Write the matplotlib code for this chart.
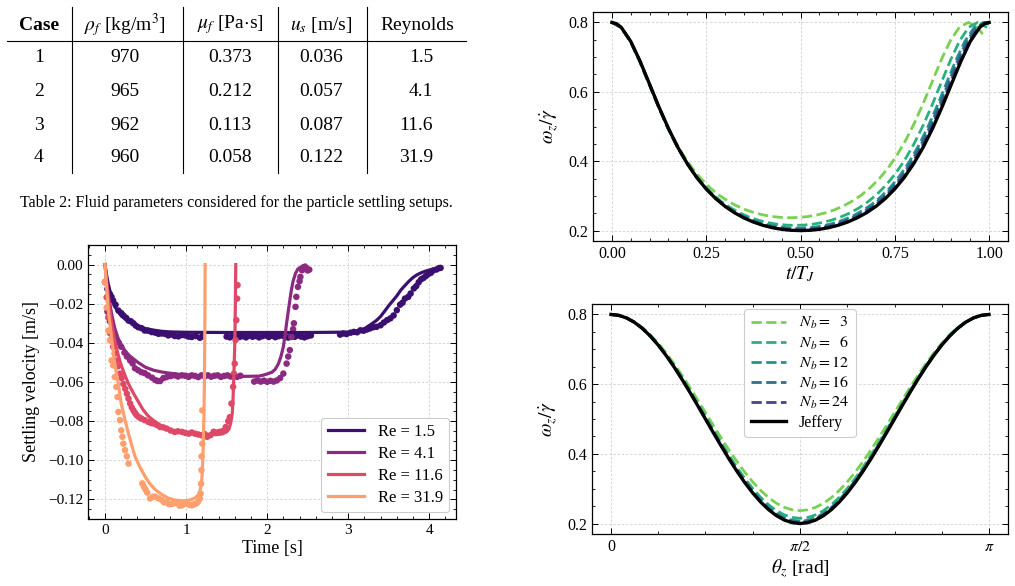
#!/usr/bin/env python
# -*- coding: utf-8 -*-

import numpy as np
import matplotlib
matplotlib.use("Agg")
import matplotlib.pyplot as plt
from matplotlib.ticker import MultipleLocator, FixedLocator

# ---------------- table data ----------------
table_header = ["Case", r"$\rho_f$ [kg/m$^3$]", r"$\mu_f$ [Pa$\cdot$s]", r"$u_s$ [m/s]", "Reynolds"]
table_case = ["1", "2", "3", "4"]
table_rho = ["970", "965", "962", "960"]
table_mu = ["0.373", "0.212", "0.113", "0.058"]
table_us = ["0.036", "0.057", "0.087", "0.122"]
table_re = ["1.5", "4.1", "11.6", "31.9"]
caption = "Table 2: Fluid parameters considered for the particle settling setups."

# ---------------- settling velocity (bottom left) ----------------
re_labels = ["Re = 1.5", "Re = 4.1", "Re = 11.6", "Re = 31.9"]
re_colors = ["#3b0f70", "#8c2981", "#de4968", "#fe9f6d"]

# measured points
pts_t_15 = [0.0, 0.03, 0.06, 0.08, 0.10, 0.13, 0.165, 0.2, 0.226, 0.26, 0.29, 0.32, 0.35, 0.38, 0.41,
            0.45, 0.49, 0.53, 0.576, 0.62, 0.66, 0.7, 0.74, 0.78, 0.82, 0.86, 0.905, 0.95, 0.99, 1.03,
            1.07, 1.12, 1.17, 1.2,
            1.5, 1.54, 1.58, 1.62, 1.66, 1.7, 1.74, 1.78, 1.82, 1.86, 1.9, 1.94, 1.98, 2.02, 2.06, 2.1,
            2.14, 2.18, 2.22, 2.26, 2.3, 2.34, 2.38, 2.42, 2.46, 2.5, 2.54,
            2.9, 2.94, 2.98, 3.03, 3.07, 3.11, 3.15, 3.19, 3.23, 3.27, 3.31, 3.35, 3.4, 3.44, 3.48, 3.52,
            3.56, 3.6, 3.64, 3.67, 3.7, 3.74, 3.77, 3.81, 3.84, 3.87, 3.9, 3.93, 3.96, 3.99, 4.02, 4.05,
            4.09, 4.12, 4.14]
pts_v_15 = [-0.009, -0.0125, -0.015, -0.0165, -0.0184, -0.0205, -0.0235, -0.0248, -0.026, -0.0272, -0.0286,
            -0.029, -0.030, -0.0312, -0.032, -0.0325, -0.0337, -0.0338, -0.0345, -0.0348, -0.0354, -0.0352,
            -0.0354, -0.0362, -0.0357, -0.0365, -0.0367, -0.036, -0.0362, -0.0368, -0.037, -0.0365, -0.0374,
            -0.0368,
            -0.0368, -0.0372, -0.0365, -0.0362, -0.037, -0.0366, -0.0372, -0.0363, -0.0369, -0.0365, -0.0372,
            -0.0366, -0.0362, -0.037, -0.0364, -0.0371, -0.0366, -0.0362, -0.0369, -0.0373, -0.0365, -0.0369,
            -0.0362, -0.0368, -0.0372, -0.0366, -0.0362,
            -0.0358, -0.0352, -0.0355, -0.0348, -0.0344, -0.0346, -0.0336, -0.0338, -0.0332, -0.0326, -0.032,
            -0.0318, -0.031, -0.0296, -0.0284, -0.0275, -0.026, -0.0233, -0.0205, -0.0195, -0.0174, -0.0165,
            -0.0148, -0.0122, -0.011, -0.009, -0.0075, -0.0068, -0.0058, -0.0048, -0.0042, -0.003, -0.0025,
            -0.0018, -0.0017]

pts_t_41 = [0.03, 0.06, 0.08, 0.11, 0.14, 0.17, 0.2, 0.24, 0.27, 0.31, 0.34, 0.37, 0.41, 0.45, 0.49, 0.53,
            0.58, 0.62, 0.65, 0.68, 0.72, 0.76, 0.81, 0.86, 0.9, 0.95, 0.99, 1.03, 1.07, 1.11, 1.15, 1.19,
            1.23, 1.27, 1.31, 1.35, 1.39, 1.43, 1.47, 1.51, 1.55, 1.59, 1.63, 1.67,
            1.84, 1.88, 1.92, 1.96, 2.0, 2.04, 2.08, 2.12, 2.16, 2.2, 2.24, 2.26, 2.28, 2.3, 2.32, 2.33,
            2.35, 2.36, 2.38, 2.4, 2.41, 2.43, 2.45, 2.46, 2.48, 2.5, 2.52]
pts_v_41 = [-0.024, -0.029, -0.0337, -0.036, -0.0388, -0.040, -0.042, -0.045, -0.047, -0.049, -0.0505,
            -0.053, -0.054, -0.055, -0.0555, -0.0566, -0.0578, -0.059, -0.0595, -0.0595, -0.058, -0.0575,
            -0.057, -0.0566, -0.0572, -0.0566, -0.0568, -0.0574, -0.0566, -0.0569, -0.0575, -0.0566,
            -0.0571, -0.0566, -0.0573, -0.0568, -0.0566, -0.0574, -0.0569, -0.0566, -0.0572, -0.0567,
            -0.0574, -0.0568,
            -0.0598, -0.0592, -0.0598, -0.0593, -0.0599, -0.0594, -0.0598, -0.0592, -0.058, -0.0557,
            -0.0506, -0.047, -0.0437, -0.037, -0.033, -0.030, -0.0216, -0.0165, -0.0114, -0.0085,
            -0.0063, -0.0029, -0.0015, -0.0012, -0.0015, -0.003, -0.0026]

pts_t_116 = [0.0, 0.02, 0.04, 0.06, 0.08, 0.1, 0.12, 0.14, 0.16, 0.185, 0.205, 0.226, 0.25, 0.27, 0.29,
             0.31, 0.33, 0.35, 0.37, 0.39, 0.42, 0.45, 0.49, 0.535, 0.57, 0.6, 0.64, 0.68, 0.72, 0.76,
             0.81, 0.86, 0.9, 0.95, 0.99, 1.03, 1.07, 1.11, 1.15, 1.19, 1.23, 1.26, 1.3, 1.34, 1.38,
             1.42, 1.46, 1.49, 1.52, 1.54, 1.56, 1.58, 1.59, 1.6, 1.61, 1.62, 1.63, 1.635]
pts_v_116 = [-0.009, -0.0167, -0.027, -0.035, -0.038, -0.042, -0.0455, -0.049, -0.052, -0.0557, -0.058,
             -0.061, -0.0635, -0.066, -0.0685, -0.071, -0.073, -0.0745, -0.0758, -0.077, -0.078, -0.0787,
             -0.0795, -0.0804, -0.081, -0.0812, -0.082, -0.083, -0.0832, -0.0838, -0.0848, -0.0855,
             -0.0852, -0.0855, -0.086, -0.0864, -0.0858, -0.0864, -0.0868, -0.0872, -0.0866, -0.088,
             -0.0872, -0.0854, -0.0858, -0.0854, -0.085, -0.083, -0.080, -0.078, -0.071, -0.0625,
             -0.0557, -0.0506, -0.0386, -0.0284, -0.0174, -0.0105]

pts_t_319 = [0.0, 0.02, 0.04, 0.06, 0.08, 0.1, 0.12, 0.14, 0.155, 0.165, 0.185, 0.2, 0.215, 0.226, 0.247,
             0.27, 0.29, 0.46, 0.48, 0.5, 0.52, 0.556, 0.59, 0.62, 0.66, 0.7, 0.73, 0.76, 0.79, 0.82,
             0.85, 0.885, 0.92, 0.95, 0.98, 1.01, 1.04, 1.07, 1.1, 1.13, 1.15, 1.17, 1.18, 1.185, 1.19,
             1.19, 1.2, 1.2]
pts_v_319 = [-0.009, -0.022, -0.0337, -0.0388, -0.049, -0.0515, -0.0575, -0.0625, -0.0677, -0.0753,
             -0.0795, -0.0847, -0.088, -0.0915, -0.0948, -0.098, -0.1017, -0.1118, -0.1135, -0.115,
             -0.1165, -0.1195, -0.1186, -0.1186, -0.1195, -0.1203, -0.1215, -0.121, -0.1224, -0.1224,
             -0.122, -0.1217, -0.1232, -0.123, -0.1222, -0.122, -0.1228, -0.123, -0.1225, -0.122,
             -0.121, -0.1195, -0.117, -0.112, -0.105, -0.098, -0.0915, -0.0745]

# model curves
fit_t_15 = [0.0, 0.02, 0.04, 0.08, 0.12, 0.2, 0.3, 0.4, 0.5, 0.6, 0.7, 0.8, 1.0, 1.5, 2.0, 2.5, 2.8,
            3.0, 3.1, 3.2, 3.3, 3.35, 3.4, 3.45, 3.5, 3.55, 3.6, 3.65, 3.7, 3.75, 3.8, 3.85, 3.9, 3.95,
            4.0, 4.05, 4.1]
fit_v_15 = [0.0, -0.0055, -0.0100, -0.0165, -0.0215, -0.0262, -0.0294, -0.0313, -0.0327, -0.0335,
            -0.0341, -0.0344, -0.0346, -0.0347, -0.0347, -0.0347, -0.0346, -0.0345, -0.0340, -0.0328,
            -0.0300, -0.0285, -0.0265, -0.0238, -0.0210, -0.0185, -0.0160, -0.0130, -0.0107, -0.0085,
            -0.0066, -0.0052, -0.0042, -0.0034, -0.0028, -0.0024, -0.0021]

fit_t_41 = [0.0, 0.02, 0.05, 0.08, 0.12, 0.16, 0.2, 0.25, 0.3, 0.4, 0.5, 0.6, 0.7, 0.8, 0.9, 1.1, 1.3,
            1.6, 1.9, 1.95, 2.0, 2.06, 2.1, 2.14, 2.17, 2.2, 2.22, 2.24, 2.26, 2.28, 2.3, 2.32, 2.35,
            2.38, 2.43, 2.47]
fit_v_41 = [0.0, -0.008, -0.0175, -0.025, -0.0325, -0.0375, -0.041, -0.0442, -0.0465, -0.0498,
            -0.0525, -0.054, -0.0549, -0.0555, -0.056, -0.0566, -0.057, -0.0572, -0.057, -0.0565,
            -0.0559, -0.055, -0.0535, -0.0506, -0.047, -0.042, -0.0365, -0.030, -0.024, -0.0182,
            -0.0128, -0.0085, -0.0045, -0.0022, -0.0009, -0.0003]

fit_t_116 = [0.0, 0.02, 0.04, 0.08, 0.12, 0.16, 0.2, 0.25, 0.29, 0.35, 0.41, 0.47, 0.535, 0.6, 0.7,
             0.8, 0.9, 1.0, 1.11, 1.2, 1.3, 1.38, 1.45, 1.5, 1.53, 1.55, 1.57, 1.58, 1.59, 1.6, 1.605,
             1.61, 1.613]
fit_v_116 = [0.0, -0.009, -0.017, -0.0295, -0.0388, -0.0458, -0.0515, -0.057, -0.061, -0.0657, -0.070,
             -0.0742, -0.0775, -0.0797, -0.0825, -0.0843, -0.0855, -0.0861, -0.0865, -0.0867, -0.0869,
             -0.0869, -0.0865, -0.0855, -0.084, -0.081, -0.076, -0.068, -0.0557, -0.042, -0.030,
             -0.012, 0.0]

fit_t_319 = [0.0, 0.02, 0.04, 0.08, 0.12, 0.165, 0.2, 0.25, 0.29, 0.33, 0.37, 0.43, 0.49, 0.55, 0.62,
             0.7, 0.78, 0.86, 0.95, 1.02, 1.07, 1.11, 1.15, 1.17, 1.19, 1.2, 1.21, 1.22, 1.226, 1.23,
             1.233, 1.235]
fit_v_319 = [0.0, -0.012, -0.0235, -0.037, -0.0507, -0.061, -0.071, -0.080, -0.0865, -0.0925, -0.098,
             -0.1035, -0.108, -0.1118, -0.115, -0.1175, -0.1193, -0.1203, -0.1207, -0.1205, -0.120,
             -0.1192, -0.1178, -0.1158, -0.112, -0.106, -0.095, -0.078, -0.061, -0.040, -0.020, 0.0]

# ---------------- angular velocity vs time (top right) ----------------
nb_labels = [r"$N_b =\ \ 3$", r"$N_b =\ \ 6$", r"$N_b = 12$", r"$N_b = 16$", r"$N_b = 24$"]
nb_colors = ["#7ad151", "#2ab07f", "#1f968b", "#2d6f8e", "#404688"]

tj_jeff = [0.0, 0.0125, 0.025, 0.05, 0.075, 0.1, 0.125, 0.15, 0.175, 0.2, 0.225, 0.25, 0.275, 0.3, 0.325,
           0.35, 0.375, 0.4, 0.425, 0.45, 0.475, 0.5, 0.525, 0.55, 0.575, 0.6, 0.625, 0.65, 0.675, 0.7,
           0.725, 0.75, 0.775, 0.8, 0.825, 0.85, 0.875, 0.9, 0.925, 0.95, 0.975, 0.9875, 1.0]
wt_jeff = [0.8, 0.7963, 0.7855, 0.7453, 0.6876, 0.6219, 0.5558, 0.4943, 0.4398, 0.3928, 0.3531, 0.32,
           0.2925, 0.2699, 0.2515, 0.2366, 0.2247, 0.2154, 0.2085, 0.2037, 0.2009, 0.2, 0.2009, 0.2037,
           0.2085, 0.2154, 0.2247, 0.2366, 0.2515, 0.2699, 0.2925, 0.32, 0.3531, 0.3928, 0.4398, 0.4943,
           0.5558, 0.6219, 0.6876, 0.7453, 0.7855, 0.7963, 0.8]

tj_nb3 = [0.0, 0.0236, 0.0473, 0.0709, 0.0945, 0.1181, 0.1418, 0.1654, 0.189, 0.2126, 0.2363, 0.2599,
          0.2835, 0.3071, 0.3308, 0.3544, 0.378, 0.4016, 0.4253, 0.4489, 0.4725, 0.4961, 0.5198, 0.5434,
          0.567, 0.5906, 0.6143, 0.6379, 0.6615, 0.6851, 0.7088, 0.7324, 0.756, 0.7796, 0.8033, 0.8269,
          0.8505, 0.8741, 0.8978, 0.9214, 0.945, 0.9686, 0.9828]
wt_nb3 = [0.8, 0.7864, 0.7487, 0.6946, 0.6328, 0.5709, 0.5132, 0.462, 0.4179, 0.3807, 0.3496, 0.3238,
          0.3026, 0.2853, 0.2713, 0.2601, 0.2515, 0.245, 0.2405, 0.2379, 0.237, 0.2379, 0.2405, 0.245,
          0.2515, 0.2601, 0.2713, 0.2853, 0.3026, 0.3238, 0.3496, 0.3807, 0.4179, 0.462, 0.5132, 0.5709,
          0.6328, 0.6946, 0.7487, 0.7864, 0.8, 0.7864, 0.7662]

tj_nb6 = [0.0, 0.0243, 0.0485, 0.0728, 0.097, 0.1213, 0.1455, 0.1698, 0.194, 0.2183, 0.2425, 0.2668,
          0.291, 0.3153, 0.3395, 0.3638, 0.388, 0.4123, 0.4365, 0.4608, 0.485, 0.5093, 0.5335, 0.5578,
          0.582, 0.6063, 0.6305, 0.6548, 0.679, 0.7033, 0.7275, 0.7518, 0.776, 0.8003, 0.8245, 0.8488,
          0.873, 0.8973, 0.9215, 0.9458, 0.97, 0.9943]
wt_nb6 = [0.8, 0.7858, 0.7466, 0.6904, 0.6263, 0.5619, 0.502, 0.4488, 0.403, 0.3644, 0.332, 0.3052,
          0.2832, 0.2652, 0.2506, 0.239, 0.23, 0.2233, 0.2186, 0.2159, 0.215, 0.2159, 0.2186, 0.2233,
          0.23, 0.239, 0.2506, 0.2652, 0.2832, 0.3052, 0.332, 0.3644, 0.403, 0.4488, 0.502, 0.5619,
          0.6263, 0.6904, 0.7466, 0.7858, 0.8, 0.7858]

tj_nb12 = [0.0, 0.0246, 0.0493, 0.0739, 0.0985, 0.1231, 0.1478, 0.1724, 0.197, 0.2216, 0.2463, 0.2709,
           0.2955, 0.3201, 0.3448, 0.3694, 0.394, 0.4186, 0.4433, 0.4679, 0.4925, 0.5171, 0.5418, 0.5664,
           0.591, 0.6156, 0.6403, 0.6649, 0.6895, 0.7141, 0.7388, 0.7634, 0.788, 0.8126, 0.8373, 0.8619,
           0.8865, 0.9111, 0.9358, 0.9604, 0.985, 0.9998]
wt_nb12 = [0.8, 0.7856, 0.7459, 0.6889, 0.6239, 0.5586, 0.4979, 0.444, 0.3976, 0.3584, 0.3256, 0.2984,
           0.2761, 0.2579, 0.2431, 0.2314, 0.2222, 0.2154, 0.2107, 0.2079, 0.207, 0.2079, 0.2107, 0.2154,
           0.2222, 0.2314, 0.2431, 0.2579, 0.2761, 0.2984, 0.3256, 0.3584, 0.3976, 0.444, 0.4979, 0.5586,
           0.6239, 0.6889, 0.7459, 0.7856, 0.8, 0.7948]

tj_nb16 = [0.0, 0.0248, 0.0495, 0.0743, 0.099, 0.1238, 0.1485, 0.1733, 0.198, 0.2228, 0.2475, 0.2723,
           0.297, 0.3218, 0.3465, 0.3713, 0.396, 0.4208, 0.4455, 0.4703, 0.495, 0.5198, 0.5445, 0.5693,
           0.594, 0.6188, 0.6435, 0.6683, 0.693, 0.7178, 0.7425, 0.7673, 0.792, 0.8168, 0.8415, 0.8663,
           0.891, 0.9158, 0.9405, 0.9653, 0.99, 1.0]
wt_nb16 = [0.8, 0.7856, 0.7456, 0.6884, 0.623, 0.5574, 0.4964, 0.4422, 0.3956, 0.3562, 0.3232, 0.2959,
           0.2735, 0.2551, 0.2403, 0.2285, 0.2193, 0.2125, 0.2077, 0.205, 0.204, 0.205, 0.2077, 0.2125,
           0.2193, 0.2285, 0.2403, 0.2551, 0.2735, 0.2959, 0.3232, 0.3562, 0.3956, 0.4422, 0.4964, 0.5574,
           0.623, 0.6884, 0.7456, 0.7856, 0.8, 0.7976]

tj_nb24 = [0.0, 0.0249, 0.0498, 0.0746, 0.0995, 0.1244, 0.1493, 0.1741, 0.199, 0.2239, 0.2488, 0.2736,
           0.2985, 0.3234, 0.3483, 0.3731, 0.398, 0.4229, 0.4478, 0.4726, 0.4975, 0.5224, 0.5473, 0.5721,
           0.597, 0.6219, 0.6468, 0.6716, 0.6965, 0.7214, 0.7463, 0.7711, 0.796, 0.8209, 0.8458, 0.8706,
           0.8955, 0.9204, 0.9453, 0.9701, 0.995, 1.0]
wt_nb24 = [0.8, 0.7855, 0.7455, 0.688, 0.6225, 0.5566, 0.4954, 0.441, 0.3942, 0.3547, 0.3216, 0.2942,
           0.2717, 0.2533, 0.2384, 0.2266, 0.2174, 0.2105, 0.2057, 0.203, 0.202, 0.203, 0.2057, 0.2105,
           0.2174, 0.2266, 0.2384, 0.2533, 0.2717, 0.2942, 0.3216, 0.3547, 0.3942, 0.441, 0.4954, 0.5566,
           0.6225, 0.688, 0.7455, 0.7855, 0.8, 0.7994]

# ---------------- angular velocity vs angle (bottom right) ----------------
theta = [0.0, 0.0654, 0.1309, 0.1963, 0.2618, 0.3272, 0.3927, 0.4581, 0.5236, 0.589, 0.6545, 0.7199,
         0.7854, 0.8508, 0.9163, 0.9817, 1.0472, 1.1126, 1.1781, 1.2435, 1.309, 1.3744, 1.4399, 1.5053,
         1.5708, 1.6362, 1.7017, 1.7671, 1.8326, 1.898, 1.9635, 2.0289, 2.0944, 2.1598, 2.2253, 2.2907,
         2.3562, 2.4216, 2.4871, 2.5525, 2.618, 2.6834, 2.7489, 2.8143, 2.8798, 2.9452, 3.0107, 3.0761,
         3.1416]
wth_jeff = [0.8, 0.7974, 0.7898, 0.7772, 0.7598, 0.738, 0.7121, 0.6826, 0.65, 0.6148, 0.5776, 0.5392,
            0.5, 0.4608, 0.4224, 0.3852, 0.35, 0.3174, 0.2879, 0.262, 0.2402, 0.2228, 0.2102, 0.2026,
            0.2, 0.2026, 0.2102, 0.2228, 0.2402, 0.262, 0.2879, 0.3174, 0.35, 0.3852, 0.4224, 0.4608,
            0.5, 0.5392, 0.5776, 0.6148, 0.65, 0.6826, 0.7121, 0.738, 0.7598, 0.7772, 0.7898, 0.7974, 0.8]
wth_nb3 = [0.8, 0.7976, 0.7904, 0.7786, 0.7623, 0.7418, 0.7175, 0.6899, 0.6593, 0.6262, 0.5914, 0.5552,
           0.5185, 0.4818, 0.4456, 0.4108, 0.3778, 0.3471, 0.3195, 0.2952, 0.2747, 0.2584, 0.2466, 0.2394,
           0.237, 0.2394, 0.2466, 0.2584, 0.2747, 0.2952, 0.3195, 0.3471, 0.3778, 0.4108, 0.4456, 0.4818,
           0.5185, 0.5552, 0.5914, 0.6262, 0.6593, 0.6899, 0.7175, 0.7418, 0.7623, 0.7786, 0.7904, 0.7976,
           0.8]
wth_nb6 = [0.8, 0.7975, 0.79, 0.7777, 0.7608, 0.7396, 0.7143, 0.6856, 0.6538, 0.6194, 0.5832, 0.5457,
           0.5075, 0.4693, 0.4318, 0.3956, 0.3613, 0.3294, 0.3007, 0.2754, 0.2542, 0.2373, 0.225, 0.2175,
           0.215, 0.2175, 0.225, 0.2373, 0.2542, 0.2754, 0.3007, 0.3294, 0.3613, 0.3956, 0.4318, 0.4693,
           0.5075, 0.5457, 0.5832, 0.6194, 0.6538, 0.6856, 0.7143, 0.7396, 0.7608, 0.7777, 0.79, 0.7975,
           0.8]
wth_nb12 = [0.8, 0.7975, 0.7899, 0.7774, 0.7603, 0.7387, 0.7132, 0.684, 0.6518, 0.617, 0.5802, 0.5422,
            0.5035, 0.4648, 0.4268, 0.39, 0.3553, 0.323, 0.2938, 0.2683, 0.2467, 0.2296, 0.2171, 0.2095,
            0.207, 0.2095, 0.2171, 0.2296, 0.2467, 0.2683, 0.2938, 0.323, 0.3553, 0.39, 0.4268, 0.4648,
            0.5035, 0.5422, 0.5802, 0.617, 0.6518, 0.684, 0.7132, 0.7387, 0.7603, 0.7774, 0.7899, 0.7975,
            0.8]
wth_nb16 = [0.8, 0.7974, 0.7898, 0.7773, 0.7601, 0.7384, 0.7127, 0.6834, 0.651, 0.616, 0.5791, 0.5409,
            0.502, 0.4631, 0.4249, 0.388, 0.353, 0.3206, 0.2913, 0.2656, 0.2439, 0.2267, 0.2142, 0.2066,
            0.204, 0.2066, 0.2142, 0.2267, 0.2439, 0.2656, 0.2913, 0.3206, 0.353, 0.388, 0.4249, 0.4631,
            0.502, 0.5409, 0.5791, 0.616, 0.651, 0.6834, 0.7127, 0.7384, 0.7601, 0.7773, 0.7898, 0.7974,
            0.8]
wth_nb24 = [0.8, 0.7974, 0.7898, 0.7772, 0.7599, 0.7382, 0.7124, 0.683, 0.6505, 0.6154, 0.5784, 0.54,
            0.501, 0.462, 0.4236, 0.3866, 0.3515, 0.319, 0.2896, 0.2638, 0.2421, 0.2248, 0.2122, 0.2046,
            0.202, 0.2046, 0.2122, 0.2248, 0.2421, 0.2638, 0.2896, 0.319, 0.3515, 0.3866, 0.4236, 0.462,
            0.501, 0.54, 0.5784, 0.6154, 0.6505, 0.683, 0.7124, 0.7382, 0.7599, 0.7772, 0.7898, 0.7974,
            0.8]

# ---------------- style ----------------
plt.rcParams.update({
    "font.family": "serif",
    "font.serif": ["Liberation Serif", "DejaVu Serif"],
    "mathtext.fontset": "stix",
    "axes.linewidth": 0.9,
    "xtick.direction": "in",
    "ytick.direction": "in",
    "xtick.top": True,
    "ytick.right": True,
    "xtick.major.size": 4,
    "ytick.major.size": 4,
    "xtick.minor.size": 2,
    "ytick.minor.size": 2,
    "xtick.major.width": 0.7,
    "ytick.major.width": 0.7,
    "xtick.minor.width": 0.6,
    "ytick.minor.width": 0.6,
    "axes.unicode_minus": True,
})

W, H = 1015, 586
fig = plt.figure(figsize=(W / 100, H / 100), dpi=100)


def frac(left, top, right, bottom):
    # pixel box -> figure fraction
    return [left / W, 1 - bottom / H, (right - left) / W, (bottom - top) / H]


def add_grid(ax):
    ax.grid(True, which="major", ls=(0, (3, 2)), lw=0.6, color="#d0d0d0")
    ax.set_axisbelow(True)


# ---------------- table ----------------
tab = fig.add_axes([0, 0, 1, 1])
tab.set_xlim(0, W)
tab.set_ylim(H, 0)
tab.axis("off")

col_x = [39, 125, 230, 321, 417]
head_y = 25
row_y = [58, 92, 125, 158]
for i, h in enumerate(table_header):
    tab.text(col_x[i], head_y, h, ha="center", va="center", fontsize=14,
             fontweight="bold" if i == 0 else "normal")
for j in range(4):
    tab.text(col_x[0], row_y[j], table_case[j], ha="center", va="center", fontsize=14)
    tab.text(col_x[1], row_y[j], table_rho[j], ha="center", va="center", fontsize=14)
    tab.text(col_x[2], row_y[j], table_mu[j], ha="center", va="center", fontsize=14)
    tab.text(col_x[3], row_y[j], table_us[j], ha="center", va="center", fontsize=14)
    tab.text(433, row_y[j], table_re[j], ha="right", va="center", fontsize=14)
for x in [72, 183, 278, 367]:
    tab.plot([x, x], [7, 173], color="black", lw=0.8)
tab.plot([7, 466], [41, 41], color="black", lw=0.8)
tab.text(236, 203, caption, ha="center", va="center", fontsize=11.5)

# ---------------- bottom left ----------------
ax1 = fig.add_axes(frac(88, 245, 456, 519))
pts_t = [pts_t_15, pts_t_41, pts_t_116, pts_t_319]
pts_v = [pts_v_15, pts_v_41, pts_v_116, pts_v_319]
fit_t = [fit_t_15, fit_t_41, fit_t_116, fit_t_319]
fit_v = [fit_v_15, fit_v_41, fit_v_116, fit_v_319]
for k in range(4):
    ax1.scatter(pts_t[k], pts_v[k], s=22, color=re_colors[k], edgecolors="none", zorder=2 + k)
for k in range(4):
    ax1.plot(fit_t[k], fit_v[k], color=re_colors[k], lw=2.3, label=re_labels[k], zorder=7 + k)
ax1.set_xlim(-0.21, 4.33)
ax1.set_ylim(-0.13, 0.01)
ax1.xaxis.set_major_locator(MultipleLocator(1))
ax1.xaxis.set_minor_locator(MultipleLocator(0.2))
ax1.yaxis.set_major_locator(MultipleLocator(0.02))
ax1.yaxis.set_minor_locator(MultipleLocator(0.005))
ax1.tick_params(labelsize=11)
add_grid(ax1)
ax1.set_xlabel("Time [s]", fontsize=13, labelpad=2)
ax1.set_ylabel("Settling velocity [m/s]", fontsize=13, labelpad=6)
leg = ax1.legend(loc="lower right", fontsize=12, handlelength=2.2, handletextpad=0.8,
                 labelspacing=0.35, borderaxespad=0.4, framealpha=1, edgecolor="#cccccc")
leg.get_frame().set_linewidth(0.8)

# ---------------- top right ----------------
ax2 = fig.add_axes(frac(593, 12, 1008, 241))
tj_all = [tj_nb3, tj_nb6, tj_nb12, tj_nb16, tj_nb24]
wt_all = [wt_nb3, wt_nb6, wt_nb12, wt_nb16, wt_nb24]
for k in range(5):
    ax2.plot(tj_all[k], wt_all[k], ls="--", lw=2, color=nb_colors[k])
ax2.plot(tj_jeff, wt_jeff, color="black", lw=2.4)
ax2.set_xlim(-0.05, 1.05)
ax2.set_ylim(0.17, 0.83)
ax2.xaxis.set_major_locator(MultipleLocator(0.25))
ax2.xaxis.set_minor_locator(MultipleLocator(0.05))
ax2.yaxis.set_major_locator(MultipleLocator(0.2))
ax2.yaxis.set_minor_locator(MultipleLocator(0.05))
ax2.tick_params(labelsize=11.5)
add_grid(ax2)
ax2.set_xlabel(r"$t/T_J$", fontsize=14, labelpad=2)
ax2.set_ylabel(r"$\omega_z/\dot{\gamma}$", fontsize=14, labelpad=6)

# ---------------- bottom right ----------------
ax3 = fig.add_axes(frac(592, 304, 1008, 534))
wth_all = [wth_nb3, wth_nb6, wth_nb12, wth_nb16, wth_nb24]
for k in range(5):
    ax3.plot(theta, wth_all[k], ls="--", lw=2, color=nb_colors[k], label=nb_labels[k])
ax3.plot(theta, wth_jeff, color="black", lw=2.4, label="Jeffery")
ax3.set_xlim(-0.157, 3.299)
ax3.set_ylim(0.17, 0.83)
ax3.xaxis.set_major_locator(FixedLocator([0, np.pi / 2, np.pi]))
ax3.set_xticklabels(["0", r"$\pi/2$", r"$\pi$"])
ax3.xaxis.set_minor_locator(MultipleLocator(np.pi / 8))
ax3.yaxis.set_major_locator(MultipleLocator(0.2))
ax3.yaxis.set_minor_locator(MultipleLocator(0.05))
ax3.tick_params(labelsize=11.5)
add_grid(ax3)
ax3.set_xlabel(r"$\theta_z$ [rad]", fontsize=14, labelpad=2)
ax3.set_ylabel(r"$\omega_z/\dot{\gamma}$", fontsize=14, labelpad=6)
leg3 = ax3.legend(loc="upper center", fontsize=11.5, handlelength=2.2, handletextpad=0.8,
                  labelspacing=0.2, borderaxespad=0.3, framealpha=1, edgecolor="#cccccc")
leg3.get_frame().set_linewidth(0.8)

fig.savefig("out.png", dpi=100)
